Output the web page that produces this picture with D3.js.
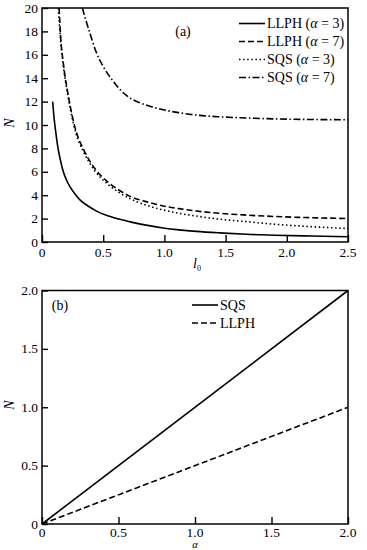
<!DOCTYPE html>
<html><head><meta charset="utf-8">
<script src="https://cdn.jsdelivr.net/npm/d3@7"></script>
<style>
body{margin:0;background:#fff;}
svg text{font-family:"Liberation Serif","DejaVu Serif","Times New Roman",serif;}
</style></head>
<body>
<svg id="c" width="367" height="550"></svg>
<script>
// ---------- Panel (a) data ----------
const llph3_l0 = [0.087,0.095,0.105,0.115,0.125,0.14,0.155,0.17,0.2,0.228,0.27,0.31,0.37,0.446,0.52,0.61,0.72,0.85,0.99,1.12,1.26,1.45,1.67,1.9,2.2,2.5];
const llph3_N  = [12.0,11.0,10.0,9.2,8.4,7.5,6.8,6.15,5.3,4.73,4.1,3.6,3.12,2.64,2.3,2.0,1.72,1.44,1.2,1.04,0.91,0.78,0.66,0.58,0.51,0.45];
const llph7_l0 = [0.14,0.152,0.175,0.215,0.255,0.28,0.34,0.43,0.53,0.62,0.72,0.85,0.99,1.12,1.26,1.45,1.67,1.9,2.2,2.5];
const llph7_N  = [20,17.6,15.2,12.5,10.4,9.4,7.9,6.3,5.2,4.5,3.9,3.45,3.08,2.85,2.65,2.45,2.3,2.18,2.08,2.0];
const sqs3_l0  = [0.133,0.15,0.175,0.215,0.255,0.28,0.34,0.43,0.53,0.62,0.72,0.85,0.99,1.12,1.26,1.45,1.67,1.9,2.2,2.5];
const sqs3_N   = [20,17.5,15,12.3,10.2,9.2,7.7,6.1,5.0,4.3,3.7,3.15,2.74,2.45,2.22,1.95,1.74,1.52,1.31,1.15];
const sqs7_l0  = [0.33,0.36,0.39,0.44,0.5,0.57,0.64,0.72,0.8,0.9,0.99,1.12,1.26,1.45,1.67,2.0,2.5];
const sqs7_N   = [20,18.9,17.9,16.3,15.0,13.9,13.0,12.3,11.9,11.55,11.3,11.05,10.85,10.7,10.6,10.5,10.45];
const aXTicks = [0,0.5,1.0,1.5,2.0,2.5];
const aXLabels = ["0","0.5","1.0","1.5","2.0","2.5"];
const aYTicks = [0,2,4,6,8,10,12,14,16,18,20];
const aYLabels = ["0","2","4","6","8","10","12","14","16","18","20"];
const aLegend = [["LLPH","3"],["LLPH","7"],["SQS","3"],["SQS","7"]];

// ---------- Panel (b) data ----------
const alphaVals = [0,2];
const sqsN = [0,2];
const llphN = [0,1];
const bXTicks = [0,0.5,1.0,1.5,2.0];
const bXLabels = ["0","0.5","1.0","1.5","2.0"];
const bYTicks = [0,0.5,1.0,1.5,2.0];
const bYLabels = ["0","0.5","1.0","1.5","2.0"];
const bLegend = ["SQS","LLPH"];

const FONT = "Liberation Serif, DejaVu Serif, serif";
const svg = d3.select("#c");
const dashes = ["none","6,3","1.5,2.6","7,2.5,1.5,2.5"];

function frame(g, x, y, xt, xl, yt, yl, xOff){
  const [x0,x1]=x.range(), [y0,y1]=y.range();
  const xax = d3.axisTop(x).tickValues(xt).tickSize(7).tickFormat("");
  g.append("g").attr("transform",`translate(0,${y0})`).call(xax)
    .call(s=>{s.select(".domain").remove(); s.selectAll("line").attr("stroke","#000").attr("stroke-width",1.4);});
  const yax = d3.axisRight(y).tickValues(yt).tickSize(6).tickFormat("");
  g.append("g").attr("transform",`translate(${x0},0)`).call(yax)
    .call(s=>{s.select(".domain").remove(); s.selectAll("line").attr("stroke","#000").attr("stroke-width",1.4);});
  g.append("rect").attr("x",x0).attr("y",y1).attr("width",x1-x0).attr("height",y0-y1)
    .attr("fill","none").attr("stroke","#000").attr("stroke-width",1.5);
  g.selectAll(".xl").data(xt).enter().append("text")
    .attr("x",d=>x(d)).attr("y",y0+xOff).attr("text-anchor","middle").attr("font-family",FONT)
    .attr("font-size",13.5).text((d,i)=>xl[i]);
  g.selectAll(".yl").data(yt).enter().append("text")
    .attr("x",x0-4).attr("y",d=>y(d)+4.5).attr("text-anchor","end").attr("font-family",FONT)
    .attr("font-size",13.5).text((d,i)=>yl[i]);
}

// ---------- Panel (a) ----------
const xa = d3.scaleLinear().domain([0,2.5]).range([42,348]);
const ya = d3.scaleLinear().domain([0,20]).range([242,8]);
const ga = svg.append("g");
svg.append("clipPath").attr("id","clipA").append("rect")
  .attr("x",42).attr("y",8).attr("width",306).attr("height",234);
const lineA = d3.line().x(d=>xa(d[0])).y(d=>ya(d[1])).curve(d3.curveMonotoneX);
const seriesA = [[llph3_l0,llph3_N],[llph7_l0,llph7_N],[sqs3_l0,sqs3_N],[sqs7_l0,sqs7_N]];
seriesA.forEach((s,i)=>{
  ga.append("path").datum(d3.zip(s[0],s[1])).attr("d",lineA)
    .attr("clip-path","url(#clipA)")
    .attr("fill","none").attr("stroke","#000").attr("stroke-width",1.6)
    .attr("stroke-dasharray",dashes[i]);
});
frame(ga, xa, ya, aXTicks, aXLabels, aYTicks, aYLabels, 14.5);
ga.append("text").attr("x",183).attr("y",36).attr("text-anchor","middle").attr("font-family",FONT).attr("font-size",14).text("(a)");
aLegend.forEach((d,i)=>{
  const cy = 23.5 + i*18;
  ga.append("line").attr("x1",239).attr("x2",265).attr("y1",cy).attr("y2",cy)
    .attr("stroke","#000").attr("stroke-width",1.6).attr("stroke-dasharray",dashes[i]);
  const t = ga.append("text").attr("x",267).attr("y",cy+4.5).attr("font-family",FONT).attr("font-size",14);
  t.append("tspan").text(d[0]+" (");
  t.append("tspan").attr("font-style","italic").text("α");
  t.append("tspan").text(" = "+d[1]+")");
});
ga.append("text").attr("transform","translate(14,123) rotate(-90)").attr("text-anchor","middle")
  .attr("font-family",FONT).attr("font-size",14).attr("font-style","italic").text("N");
const xlab = ga.append("text").attr("x",193).attr("y",268).attr("font-family",FONT).attr("font-size",14);
xlab.append("tspan").attr("font-style","italic").text("l");
xlab.append("tspan").attr("font-size",8).attr("dy",3).text("0");

// ---------- Panel (b) ----------
const xb = d3.scaleLinear().domain([0,2]).range([42,348]);
const yb = d3.scaleLinear().domain([0,2]).range([524,290.5]);
const gb = svg.append("g");
const lineB = d3.line().x(d=>xb(d[0])).y(d=>yb(d[1]));
[[alphaVals,sqsN],[alphaVals,llphN]].forEach((s,i)=>{
  gb.append("path").datum(d3.zip(s[0],s[1])).attr("d",lineB)
    .attr("fill","none").attr("stroke","#000").attr("stroke-width",1.6)
    .attr("stroke-dasharray",i===0?"none":"6,3");
});
frame(gb, xb, yb, bXTicks, bXLabels, bYTicks, bYLabels, 12.5);
gb.append("text").attr("x",60).attr("y",310).attr("text-anchor","middle").attr("font-family",FONT).attr("font-size",14).text("(b)");
bLegend.forEach((d,i)=>{
  const cy = 305 + i*18;
  gb.append("line").attr("x1",192).attr("x2",218).attr("y1",cy).attr("y2",cy)
    .attr("stroke","#000").attr("stroke-width",1.6).attr("stroke-dasharray",i===0?"none":"6,3");
  gb.append("text").attr("x",220).attr("y",cy+4.5).attr("font-family",FONT).attr("font-size",14).text(d);
});
gb.append("text").attr("transform","translate(14,405) rotate(-90)").attr("text-anchor","middle")
  .attr("font-family",FONT).attr("font-size",14).attr("font-style","italic").text("N");
gb.append("text").attr("x",195).attr("y",547.5).attr("text-anchor","middle").attr("font-family",FONT)
  .attr("font-size",10.5).attr("font-style","italic").text("α");
</script>
</body></html>
